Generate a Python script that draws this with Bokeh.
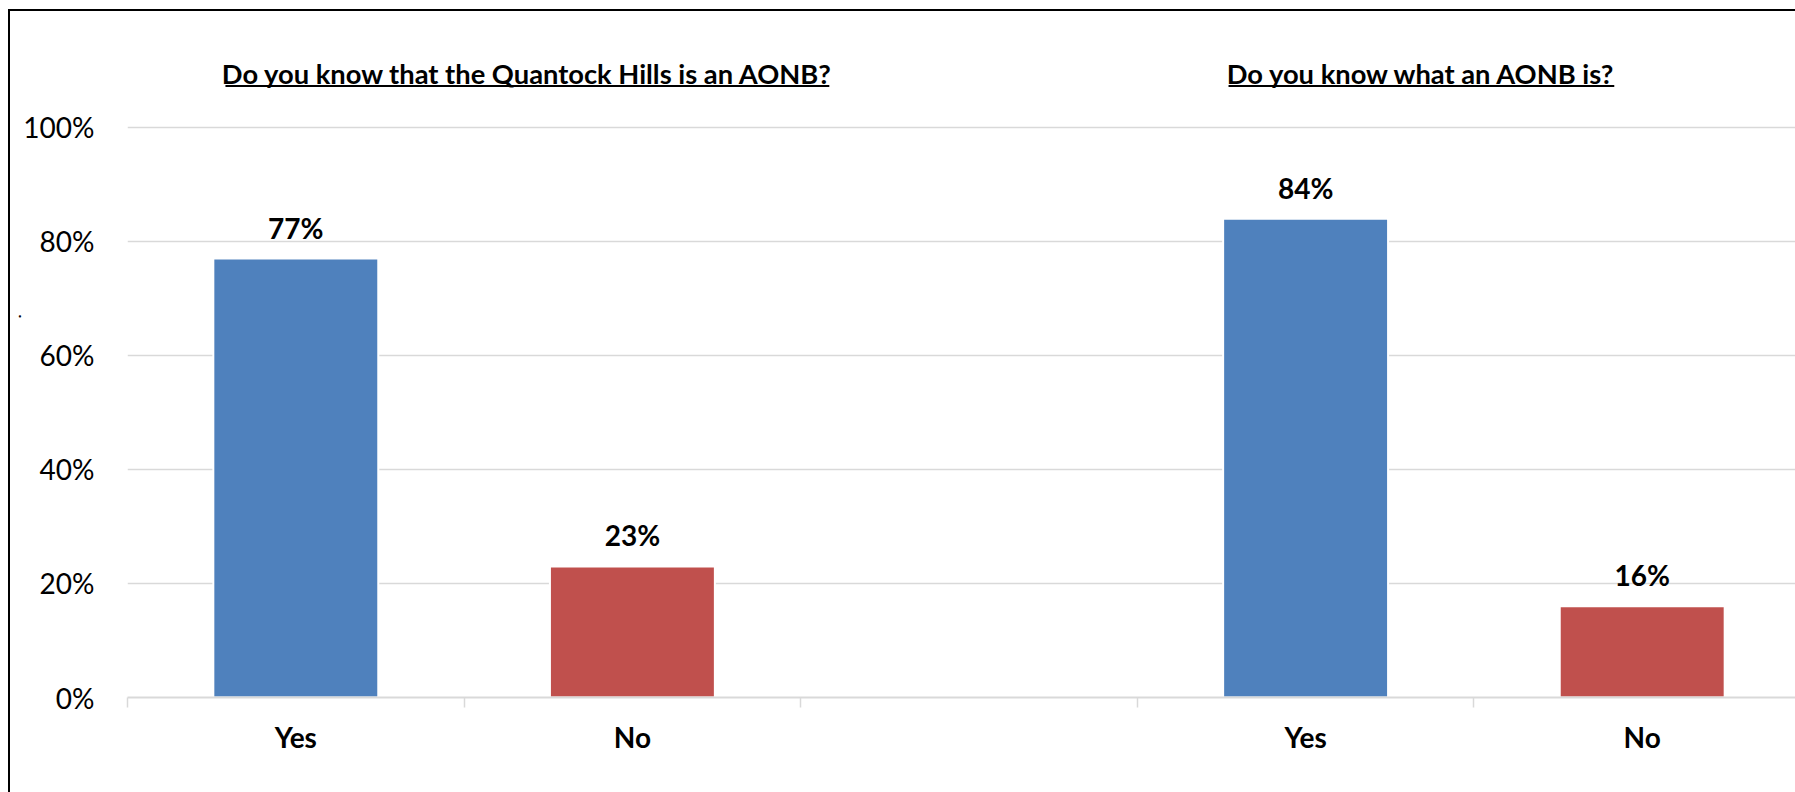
from bokeh.plotting import figure
from bokeh.models import Range1d, FixedTicker, Title, PrintfTickFormatter, ColumnDataSource
from bokeh.core.properties import value
from bokeh.embed import file_html
from bokeh.resources import INLINE

# Survey answers (percent of respondents)
questions = ["Do you know that the Quantock Hills is an AONB?", "Do you know what an AONB is?"]
answers = ["Yes", "No"]
q1_pct = [77, 23]
q2_pct = [84, 16]
y_ticks = [0, 20, 40, 60, 80, 100]
answer_colors = ["#4F81BD", "#C0504D"]

FONT = value("Lato")

# Category slots: two answers per question with an empty slot between the questions
q1_slots = [0.5, 1.5]
q2_slots = [3.5, 4.5]
slot_edges = [0, 1, 2, 3, 4, 5]

bars = ColumnDataSource(dict(
    x=q1_slots + q2_slots,
    top=q1_pct + q2_pct,
    color=answer_colors + answer_colors,
    label=[f"{v}%" for v in q1_pct + q2_pct],
))

p = figure(
    width=1795, height=792,
    frame_width=1668, frame_height=677,
    min_border_left=127, min_border_right=0, min_border_top=20, min_border_bottom=95,
    x_range=Range1d(0, 4.9554), y_range=Range1d(0, 118.77),
    output_backend="svg", toolbar_location=None,
)
p.border_fill_color = None
p.background_fill_color = "white"
p.outline_line_color = None
# thin black frame along the top and left edge of the page
p.styles = {
    "background": "linear-gradient(#000,#000) 8px 9px / 2px 100% no-repeat, "
                  "linear-gradient(#000,#000) 8px 9px / 100% 2px no-repeat, white"
}

# gridlines
p.xgrid.visible = False
p.ygrid.ticker = FixedTicker(ticks=y_ticks)
p.ygrid.grid_line_color = "#d9d9d9"
p.ygrid.grid_line_width = 1.5

# y axis: percent labels only
p.yaxis.ticker = FixedTicker(ticks=y_ticks)
p.yaxis.formatter = PrintfTickFormatter(format="%d%%")
p.yaxis.axis_line_color = None
p.yaxis.major_tick_line_color = None
p.yaxis.minor_tick_line_color = None
p.yaxis.major_label_standoff = 27
p.yaxis.major_label_text_font = "Lato"
p.yaxis.major_label_text_font_size = "28px"
p.yaxis.major_label_text_color = "black"

# x axis: answer labels at slot centres, separators at slot edges
p.xaxis.ticker = FixedTicker(ticks=q1_slots + q2_slots, minor_ticks=slot_edges)
p.xaxis.major_label_overrides = {x: a for x, a in zip(q1_slots + q2_slots, answers + answers)}
p.xaxis.axis_line_color = "#d9d9d9"
p.xaxis.axis_line_width = 2
p.xaxis.major_tick_line_color = None
p.xaxis.major_tick_out = 0
p.xaxis.major_tick_in = 0
p.xaxis.minor_tick_line_color = "#d9d9d9"
p.xaxis.minor_tick_line_width = 1.5
p.xaxis.minor_tick_out = 10
p.xaxis.minor_tick_in = 0
p.xaxis.major_label_standoff = 12
p.xaxis.major_label_text_font = "Lato"
p.xaxis.major_label_text_font_style = "bold"
p.xaxis.major_label_text_font_size = "28px"
p.xaxis.major_label_text_color = "black"

p.vbar(x="x", top="top", width=0.49, fill_color="color", line_color="white", line_width=2, source=bars)

p.text(x="x", y="top", text="label", source=bars, text_font=FONT, text_font_style="bold",
       text_font_size="28px", text_color="black", text_align="center",
       text_baseline="middle", y_offset=-31)

# question titles, underlined
title_x = [1.188, 3.844]
title_half = [0.897, 0.573]
p.text(x=title_x, y=[109.47, 109.47], text=questions, text_font=FONT, text_font_style="bold",
       text_font_size="27.3px", text_color="black", text_align="center", text_baseline="middle")
p.segment(x0=[c - h for c, h in zip(title_x, title_half)], y0=[107.3, 107.3],
          x1=[c + h for c, h in zip(title_x, title_half)], y1=[107.3, 107.3],
          line_color="black", line_width=2)

# stray full stop in the left margin
p.add_layout(Title(text=".", align="left", offset=379, standoff=0, text_font="Lato",
                   text_font_size="18px", text_font_style="normal", text_color="black"), "left")

open("out.html", "w").write(file_html(p, INLINE))
